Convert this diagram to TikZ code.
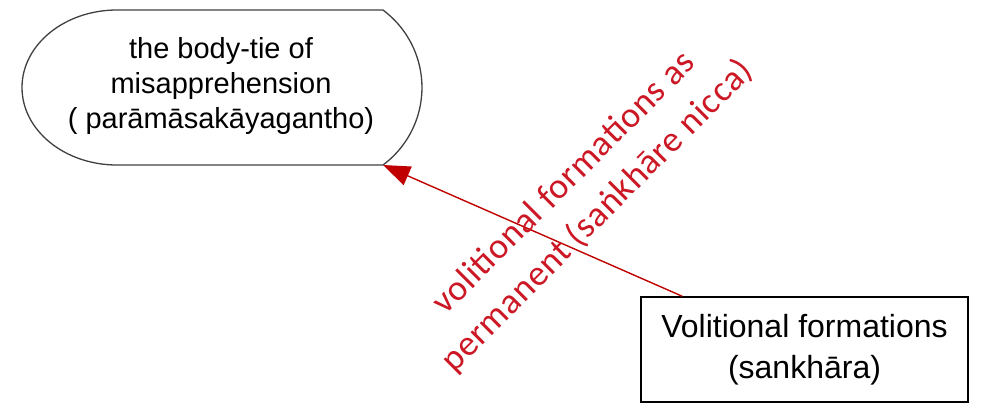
\documentclass[tikz,border=0pt]{standalone}
\usepackage{fontspec}
\setmainfont{Liberation Sans}
\newfontfamily\labelfont[LetterSpace=2]{Carlito}
\usetikzlibrary{arrows.meta}
\definecolor{edgegray}{RGB}{64,64,64}
\definecolor{arrred}{RGB}{192,0,0}
\definecolor{lblred}{RGB}{204,24,36}
\tikzset{
  shapeline/.style={draw=edgegray, line width=1.3pt},
  boxnode/.style={draw=black, line width=1.5pt, minimum width=327pt, minimum height=105pt, inner sep=0pt, align=center, font=\fontsize{32}{41}\selectfont},
  tietext/.style={align=center, inner sep=0pt, font=\fontsize{29}{35}\selectfont},
  arr/.style={draw=arrred, line width=1.4pt, -{Triangle[length=27pt,width=20pt]}},
  lbl/.style={text=lblred, align=center, inner sep=0pt, rotate=45, font=\labelfont\fontsize{36}{47}\selectfont}
}
\begin{document}
\begin{tikzpicture}[x=1pt,y=-1pt]
\useasboundingbox (0,0) rectangle (981,405);
% body-tie shape
\draw[shapeline] (383,10) -- (117,10)
  arc[start angle=270, end angle=90, x radius=95, y radius=77.5]
  -- (383,165)
  arc[start angle=53.4, end angle=-53.4, radius=96.5] -- cycle;
\node[tietext] (tie) at (221,86) {the body-tie of\\misapprehension\\( parāmāsakāyagantho)};
\coordinate (tiecorner) at (383,165);
% box
\node[boxnode] (vol) at (804.5,349.5) {Volitional formations\\(sankhāra)};
% arrow
\draw[arr] ([xshift=42pt]vol.north west) -- (tiecorner);
% label
\node[lbl] (elabel) at (581,200) {volitional formations as\\permanent (saṅkhāre nicca)};
\end{tikzpicture}
\end{document}
